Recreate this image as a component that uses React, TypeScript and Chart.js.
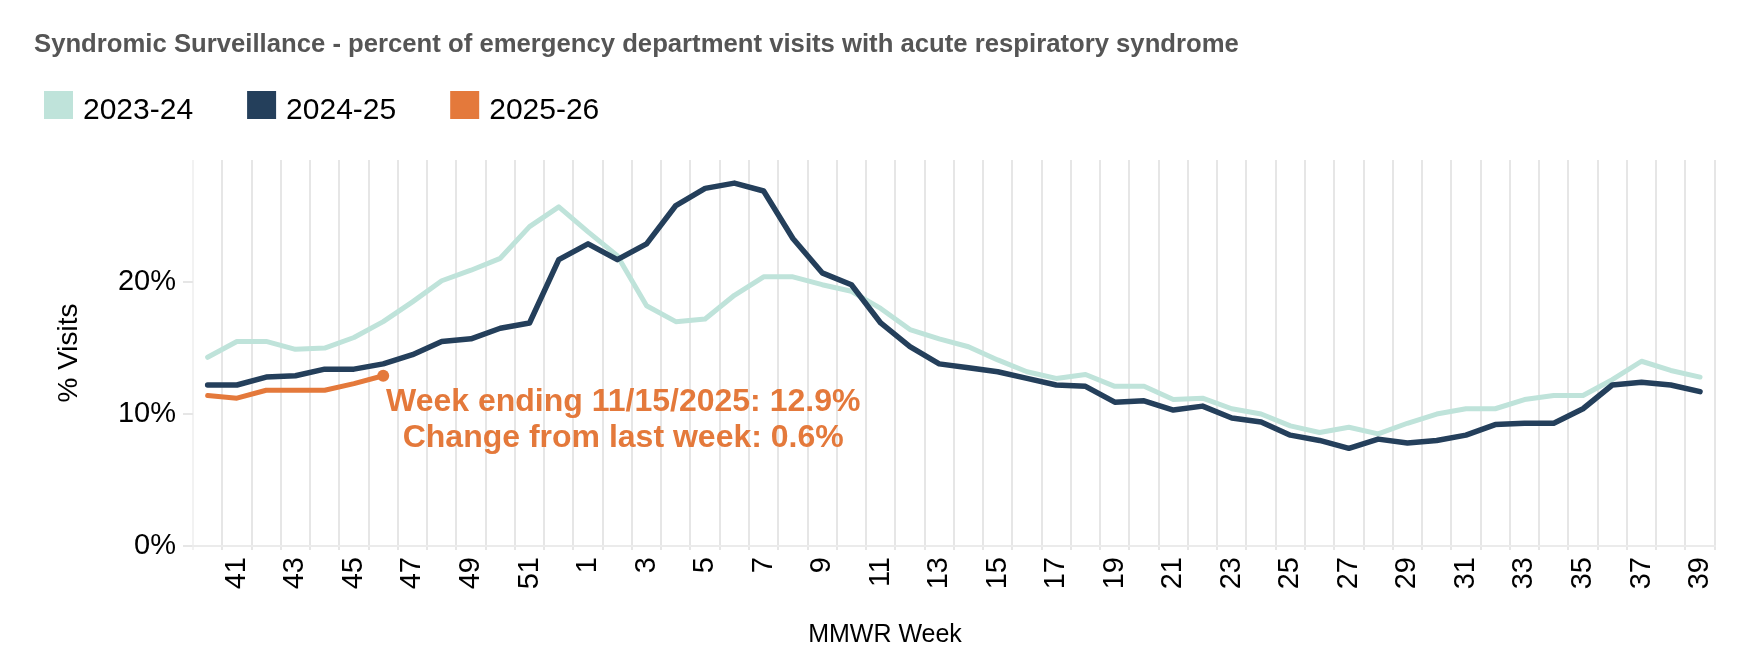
import React, { useEffect, useRef } from "react";
import { Chart, registerables } from "chart.js";

Chart.register(...registerables);

// ---------- data ----------
const weeks = [
  "40", "41", "42", "43", "44", "45", "46", "47", "48", "49", "50", "51", "52",
  "1", "2", "3", "4", "5", "6", "7", "8", "9", "10", "11", "12", "13",
  "14", "15", "16", "17", "18", "19", "20", "21", "22", "23", "24", "25", "26",
  "27", "28", "29", "30", "31", "32", "33", "34", "35", "36", "37", "38", "39",
];

const season2023 = [
  14.3, 15.5, 15.5, 14.9, 15.0, 15.8, 17.0, 18.5, 20.1, 20.9, 21.8, 24.2, 25.7,
  23.8, 22.0, 18.2, 17.0, 17.2, 19.0, 20.4, 20.4, 19.8, 19.3, 18.0, 16.4, 15.7,
  15.1, 14.1, 13.2, 12.7, 13.0, 12.1, 12.1, 11.1, 11.2, 10.4, 10.0, 9.1, 8.6,
  9.0, 8.5, 9.3, 10.0, 10.4, 10.4, 11.1, 11.4, 11.4, 12.6, 14.0, 13.3, 12.8,
];

const season2024 = [
  12.2, 12.2, 12.8, 12.9, 13.4, 13.4, 13.8, 14.5, 15.5, 15.7, 16.5, 16.9, 21.7,
  22.9, 21.7, 22.9, 25.8, 27.1, 27.5, 26.9, 23.3, 20.7, 19.8, 16.9, 15.1, 13.8,
  13.5, 13.2, 12.7, 12.2, 12.1, 10.9, 11.0, 10.3, 10.6, 9.7, 9.4, 8.4, 8.0,
  7.4, 8.1, 7.8, 8.0, 8.4, 9.2, 9.3, 9.3, 10.4, 12.2, 12.4, 12.2, 11.7,
];

const season2025 = [11.4, 11.2, 11.8, 11.8, 11.8, 12.3, 12.9];

const seriesLabels = ["2023-24", "2024-25", "2025-26"];
const seriesColors = ["#BFE3DA", "#243F5B", "#E4793B"];

const yTickValues = [0, 10, 20];
const yMax = 29.25;

const chartTitle =
  "Syndromic Surveillance - percent of emergency department visits with acute respiratory syndrome";
const annotationLines = ["Week ending 11/15/2025: 12.9%", "Change from last week: 0.6%"];
const xAxisTitle = "MMWR Week";
const yAxisTitle = "% Visits";

const FONT = '"Liberation Sans", Arial, Helvetica, sans-serif';

const overlayPlugin = {
  id: "overlay",
  afterDraw(chart: any) {
    const ctx = chart.ctx as CanvasRenderingContext2D;
    ctx.save();

    // title
    ctx.font = `bold 25.7px ${FONT}`;
    ctx.fillStyle = "#555555";
    ctx.textAlign = "left";
    ctx.textBaseline = "alphabetic";
    ctx.fillText(chartTitle, 34, 52);

    // legend
    ctx.font = `30px ${FONT}`;
    let x = 44;
    chart.data.datasets.forEach((ds: any) => {
      ctx.fillStyle = ds.borderColor;
      ctx.fillRect(x, 91, 29, 28);
      ctx.fillStyle = "#000000";
      ctx.textBaseline = "alphabetic";
      ctx.fillText(ds.label, x + 39, 119);
      x += 39 + ctx.measureText(ds.label).width + 54;
    });

    // annotation anchored at the latest 2025-26 point
    const meta = chart.getDatasetMeta(2);
    const last = meta.data[meta.data.length - 1];
    if (last) {
      ctx.font = `bold 32px ${FONT}`;
      ctx.fillStyle = seriesColors[2];
      ctx.textAlign = "center";
      ctx.textBaseline = "alphabetic";
      ctx.fillText(annotationLines[0], last.x + 240, last.y + 35);
      ctx.fillText(annotationLines[1], last.x + 240, last.y + 71);
    }

    // x axis title
    ctx.font = `25px ${FONT}`;
    ctx.fillStyle = "#000000";
    ctx.textAlign = "center";
    ctx.textBaseline = "middle";
    ctx.fillText(xAxisTitle, 885, 635);

    ctx.restore();
  },
};

export default function App() {
  const canvasRef = useRef<HTMLCanvasElement | null>(null);

  useEffect(() => {
    if (!canvasRef.current) return;
    const chart = new Chart(canvasRef.current, {
      type: "line",
      data: {
        labels: weeks,
        datasets: [
          {
            label: seriesLabels[0],
            data: season2023,
            borderColor: seriesColors[0],
            backgroundColor: seriesColors[0],
            borderWidth: 5,
            pointRadius: 0,
            tension: 0,
            borderCapStyle: "round",
            borderJoinStyle: "round",
            order: 3,
          },
          {
            label: seriesLabels[1],
            data: season2024,
            borderColor: seriesColors[1],
            backgroundColor: seriesColors[1],
            borderWidth: 5.5,
            pointRadius: 0,
            tension: 0,
            borderCapStyle: "round",
            borderJoinStyle: "round",
            order: 2,
          },
          {
            label: seriesLabels[2],
            data: season2025,
            borderColor: seriesColors[2],
            backgroundColor: seriesColors[2],
            borderWidth: 5,
            pointRadius: season2025.map((_, i) => (i === season2025.length - 1 ? 6 : 0)),
            pointBorderWidth: 0,
            pointBackgroundColor: seriesColors[2],
            tension: 0,
            borderCapStyle: "round",
            borderJoinStyle: "round",
            order: 1,
          },
        ],
      },
      options: {
        animation: false,
        responsive: true,
        maintainAspectRatio: false,
        devicePixelRatio: 1,
        layout: { padding: { top: 160, right: 17, bottom: 0, left: 0 } },
        plugins: {
          legend: { display: false },
          title: { display: false },
          tooltip: { enabled: false },
        },
        scales: {
          x: {
            type: "category",
            offset: true,
            grid: {
              offset: true,
              display: true,
              drawOnChartArea: true,
              drawTicks: true,
              tickLength: 4,
              lineWidth: 2,
              color: (c: any) =>
                c.index === 0 ? "#F2F2F2" : c.index >= weeks.length ? "rgba(0,0,0,0)" : "#E6E6E6",
            },
            border: { display: true, color: "#EBEBEB", width: 2 },
            ticks: {
              autoSkip: false,
              minRotation: 90,
              maxRotation: 90,
              padding: 7,
              color: "#000000",
              font: { family: FONT, size: 29 },
              callback: (_v: any, i: number) => (i % 2 === 1 ? weeks[i] : ""),
            },
            afterFit: (scale: any) => {
              scale.height = 124;
            },
          },
          y: {
            type: "linear",
            min: 0,
            max: yMax,
            afterBuildTicks: (scale: any) => {
              scale.ticks = yTickValues.map((v) => ({ value: v }));
            },
            grid: {
              display: true,
              drawOnChartArea: false,
              drawTicks: true,
              tickLength: 10,
              lineWidth: 2,
              color: "#E6E6E6",
            },
            border: { display: false },
            ticks: {
              padding: 7,
              color: "#000000",
              font: { family: FONT, size: 29 },
              callback: (v: any) => `${v}%`,
            },
            title: {
              display: true,
              text: yAxisTitle,
              color: "#000000",
              font: { family: FONT, size: 28 },
              padding: { top: 52, bottom: 0 },
            },
            afterFit: (scale: any) => {
              scale.width = 193;
            },
          },
        },
      },
      plugins: [overlayPlugin],
    });
    return () => chart.destroy();
  }, []);

  return (
    <div
      style={{
        position: "fixed",
        left: 0,
        top: 0,
        width: "1742px",
        height: "670px",
        background: "#ffffff",
      }}
    >
      <canvas ref={canvasRef} />
    </div>
  );
}
